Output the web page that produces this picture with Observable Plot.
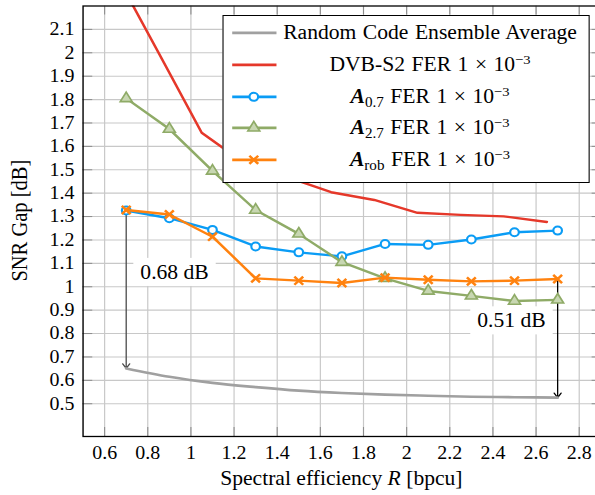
<!DOCTYPE html>
<html><head><meta charset="utf-8">
<script src="https://cdn.jsdelivr.net/npm/d3@7"></script>
<script src="https://cdn.jsdelivr.net/npm/@observablehq/plot@0.6"></script>
<style>
html,body{margin:0;padding:0;background:#fff;}
#wrap{position:relative;width:550.93px;height:495px;transform:scaleX(1.08);transform-origin:0 0;font-family:"Liberation Serif","Times New Roman",serif;}
#legend{position:absolute;left:206.2px;top:15px;width:340px;height:167.7px;box-sizing:border-box;border:1.3px solid #000;background:#fff;}
.row{position:absolute;left:0;width:100%;height:31.7px;}
.row svg{position:absolute;left:7px;top:0;}
.row .t{position:absolute;left:51px;width:280px;text-align:center;line-height:31.7px;font-size:20px;white-space:nowrap;color:#000;word-spacing:1px;}
sup{font-size:13.5px;vertical-align:7.5px;line-height:0}
sub{font-size:14px;vertical-align:-4px;line-height:0}
</style></head><body><div id="wrap"></div>
<script>
// ---- data ----
const rates = [0.7, 0.9, 1.1, 1.3, 1.5, 1.7, 1.9, 2.1, 2.3, 2.5, 2.7];
const rceAvg = [0.651, 0.615, 0.589, 0.571, 0.556, 0.546, 0.539, 0.534, 0.530, 0.528, 0.526];
const dvbRates = [0.65, 0.85, 1.05, 1.25, 1.45, 1.65, 1.85, 2.05, 2.25, 2.45, 2.65];
const dvbGap = [2.34, 2.0, 1.658, 1.527, 1.468, 1.404, 1.371, 1.316, 1.307, 1.301, 1.277];
const a07Gap = [1.326, 1.293, 1.243, 1.172, 1.147, 1.130, 1.183, 1.179, 1.202, 1.233, 1.240];
const a27Gap = [1.805, 1.674, 1.495, 1.328, 1.226, 1.105, 1.036, 0.982, 0.961, 0.939, 0.944];
const arobGap = [1.328, 1.309, 1.214, 1.036, 1.026, 1.016, 1.039, 1.030, 1.023, 1.026, 1.033];
const xTicks = [0.6, 0.8, 1.0, 1.2, 1.4, 1.6, 1.8, 2.0, 2.2, 2.4, 2.6, 2.8];
const yTicks = [0.5, 0.6, 0.7, 0.8, 0.9, 1.0, 1.1, 1.2, 1.3, 1.4, 1.5, 1.6, 1.7, 1.8, 1.9, 2.0, 2.1];
const annotations = [
  {x: 0.7, y1: arobGap[0], y2: rceAvg[0], lx: 0.924, ly: 1.062, label: "0.68 dB", stroke: "#4a4a4a"},
  {x: 2.7, y1: arobGap[10], y2: rceAvg[10], lx: 2.486, ly: 0.855, label: "0.51 dB", stroke: "#000000"}
];
const colors = {rce: "#a0a0a0", dvb: "#e5382a", a07: "#0a9cf5", a27: "#8fab67", a27fill: "#c8d7b2", arob: "#ff820f"};

const S = 1.08;
const W = 595 / S;
const toRows = (xs, ys) => xs.map((x, i) => ({x, y: ys[i]}));
const rce = toRows(rates, rceAvg), dvb = toRows(dvbRates, dvbGap),
      a07 = toRows(rates, a07Gap), a27 = toRows(rates, a27Gap), arob = toRows(rates, arobGap);
const fmt = d => String(+d.toFixed(1));
const tickStroke = "#8c8c8c";

const chart = Plot.plot({
  width: W, height: 495,
  marginLeft: 76.4, marginRight: W - 555.8, marginTop: 5.5, marginBottom: 59,
  x: {domain: [0.5, 2.9]},
  y: {domain: [0.36, 2.2]},
  style: {fontFamily: "'Liberation Serif', 'Times New Roman', serif", fontSize: "18.5px", background: "white", overflow: "hidden", color: "black"},
  marks: [
    Plot.gridX(xTicks, {stroke: "#c8c8c8", strokeOpacity: 1, strokeWidth: 1.1}),
    Plot.gridY(yTicks, {stroke: "#c8c8c8", strokeOpacity: 1, strokeWidth: 1.1}),
    Plot.axisX(xTicks, {anchor: "bottom", tickSize: 9, dy: -9, fill: null, label: null, stroke: tickStroke}),
    Plot.axisX(xTicks, {anchor: "top", tickSize: 8, dy: 8, fill: null, label: null, stroke: tickStroke}),
    Plot.axisY(yTicks, {anchor: "left", tickSize: 9, dx: 9, fill: null, label: null, stroke: tickStroke}),
    Plot.axisY(yTicks, {anchor: "right", tickSize: 9, dx: -9, fill: null, label: null, stroke: tickStroke}),
    Plot.axisX(xTicks, {anchor: "bottom", tickSize: 0, tickPadding: 9, tickFormat: fmt, label: null, fontSize: 18.5}),
    Plot.axisY(yTicks, {anchor: "left", tickSize: 0, tickPadding: 8, tickFormat: fmt, label: null, fontSize: 18.5}),
    Plot.text(annotations, {x: "lx", y: "ly", text: "label", fontSize: 20, fill: "black"}),
    Plot.arrow(annotations, {x1: "x", x2: "x", y1: "y1", y2: "y2", stroke: "stroke", strokeWidth: 1.2, headLength: 7, headAngle: 70}),
    Plot.line(rce, {x: "x", y: "y", stroke: colors.rce, strokeWidth: 2.6, curve: "monotone-x"}),
    Plot.line(dvb, {x: "x", y: "y", stroke: colors.dvb, strokeWidth: 2.4, clip: true}),
    Plot.line(a07, {x: "x", y: "y", stroke: colors.a07, strokeWidth: 2.4}),
    Plot.dot(a07, {x: "x", y: "y", r: 4, stroke: colors.a07, strokeWidth: 2, fill: "white"}),
    Plot.line(a27, {x: "x", y: "y", stroke: colors.a27, strokeWidth: 2.4}),
    Plot.dot(a27, {x: "x", y: "y", r: 4.1, symbol: "triangle", stroke: colors.a27, strokeWidth: 1.6, fill: colors.a27fill}),
    Plot.line(arob, {x: "x", y: "y", stroke: colors.arob, strokeWidth: 2.4}),
    Plot.dot(arob, {x: "x", y: "y", r: 3.8, symbol: "times", stroke: colors.arob, strokeWidth: 2.4}),
    Plot.frame({stroke: "black", strokeWidth: 1.3})
  ]
});
const wrap = document.getElementById("wrap");
wrap.appendChild(chart);

// white boxes behind annotation labels
d3.select(chart).selectAll("text").filter(function() { return / dB$/.test(this.textContent) && /^\d/.test(this.textContent); })
  .each(function() {
    const b = this.getBBox();
    const r = document.createElementNS("http://www.w3.org/2000/svg", "rect");
    r.setAttribute("x", b.x - 6.5); r.setAttribute("y", b.y - 2.5);
    r.setAttribute("width", b.width + 13); r.setAttribute("height", b.height + 5);
    r.setAttribute("fill", "white"); r.setAttribute("stroke", "none");
    const tr = this.getAttribute("transform"); if (tr) r.setAttribute("transform", tr);
    this.parentNode.insertBefore(r, this);
  });

// axis labels
const svg = d3.select(chart);
const xl = svg.append("text").attr("x", 316.1).attr("y", 485).attr("text-anchor", "middle")
  .attr("font-size", 20).attr("fill", "black");
xl.append("tspan").text("Spectral efficiency ");
xl.append("tspan").attr("font-style", "italic").text("R");
xl.append("tspan").text(" [bpcu]");
svg.append("text").attr("transform", "translate(25,220.7) rotate(-90)").attr("text-anchor", "middle")
  .attr("font-size", 20.5).attr("fill", "black").text("SNR Gap [dB]");

// legend
const legendItems = [
  {color: colors.rce, marker: null, html: "Random Code Ensemble Average"},
  {color: colors.dvb, marker: null, html: "DVB-S2 FER 1 × 10<sup>−3</sup>"},
  {color: colors.a07, marker: "circle", html: "<b><i>A</i></b><sub>0.7</sub> FER 1 × 10<sup>−3</sup>"},
  {color: colors.a27, marker: "triangle", html: "<b><i>A</i></b><sub>2.7</sub> FER 1 × 10<sup>−3</sup>"},
  {color: colors.arob, marker: "times", html: "<b><i>A</i></b><sub>rob</sub> FER 1 × 10<sup>−3</sup>"}
];
const legend = document.createElement("div");
legend.id = "legend";
const rowCenters = [17, 48.7, 80.4, 112, 143.7];
legendItems.forEach((it, i) => {
  const row = document.createElement("div");
  row.className = "row";
  row.style.top = (rowCenters[i] - 15.85) + "px";
  let m = "";
  if (it.marker === "circle") m = `<circle cx="21" cy="15.85" r="4" fill="white" stroke="${it.color}" stroke-width="2"/>`;
  if (it.marker === "triangle") m = `<path transform="translate(21,15.85)" d="${d3.symbol(d3.symbolTriangle, Math.PI * 4.1 * 4.1)()}" fill="${colors.a27fill}" stroke="${it.color}" stroke-width="1.6"/>`;
  if (it.marker === "times") m = `<path transform="translate(21,15.85)" d="${d3.symbol(d3.symbolTimes, Math.PI * 3.8 * 3.8)()}" fill="none" stroke="${it.color}" stroke-width="2.4"/>`;
  row.innerHTML = `<svg width="44" height="31.7"><line x1="1" x2="42" y1="15.85" y2="15.85" stroke="${it.color}" stroke-width="2.6"/>${m}</svg><div class="t">${it.html}</div>`;
  legend.appendChild(row);
});
wrap.appendChild(legend);
</script>
</body></html>
